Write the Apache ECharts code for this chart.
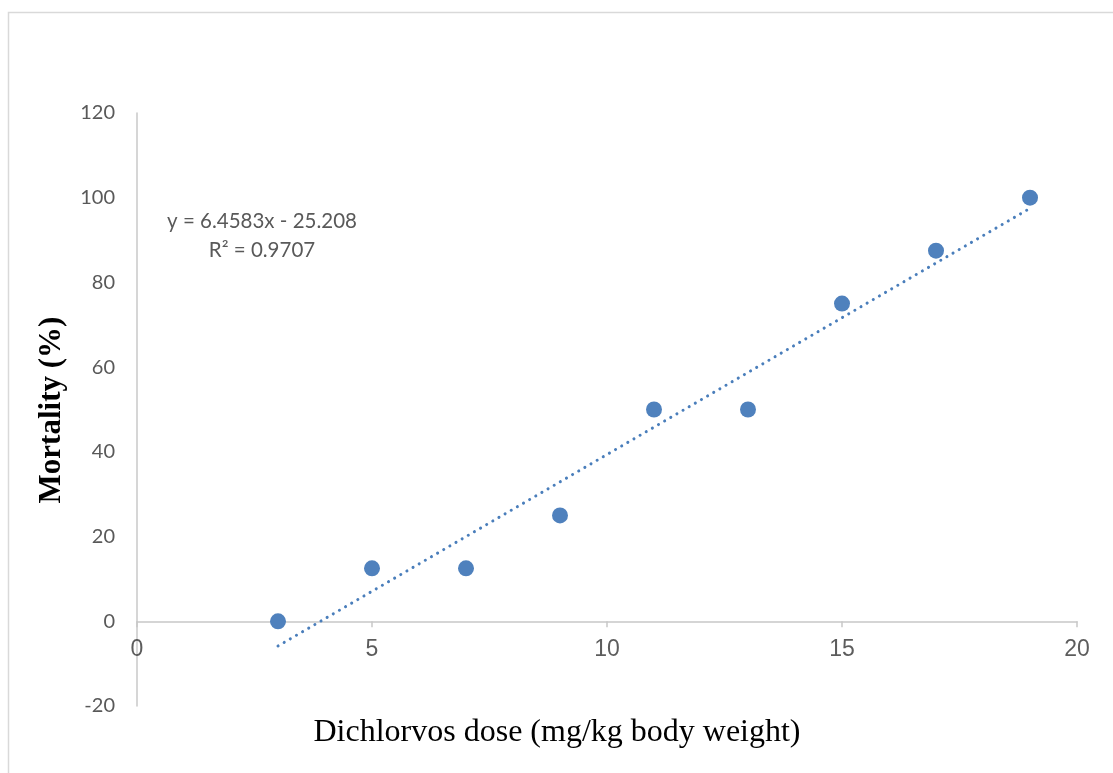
<!DOCTYPE html>
<html>
<head>
<meta charset="utf-8">
<script src="https://cdn.jsdelivr.net/npm/echarts@6/dist/echarts.min.js"></script>
<style>html,body{margin:0;padding:0;background:#fff;}#c{width:1113px;height:773px;}</style>
</head>
<body>
<div id="c"></div>
<script>
const doses = [3, 5, 7, 9, 11, 13, 15, 17, 19];
const mortality = [0, 12.5, 12.5, 25, 50, 50, 75, 87.5, 100];
const trendSlope = 6.4583;
const trendIntercept = -25.208;
const trendRange = [3, 19];
const xTickValues = [0, 5, 10, 15, 20];
const equationLines = ['y = 6.4583x - 25.208', 'R² = 0.9707'];
const xTitle = 'Dichlorvos dose (mg/kg body weight)';
const yTitle = 'Mortality (%)';

const points = doses.map((d, i) => [d, mortality[i]]);
const trend = trendRange.map(x => [x, trendSlope * x + trendIntercept]);
const xTickLabels = xTickValues.map(v => ({ value: [v, 0], name: String(v) }));

const chart = echarts.init(document.getElementById('c'));
chart.setOption({
  animation: false,
  backgroundColor: '#fff',
  grid: { left: 137, right: 36, top: 113, bottom: 67 },
  graphic: [
    { type: 'rect', shape: { x: 8.5, y: 12.5, width: 1200, height: 900 }, style: { fill: 'none', stroke: '#d9d9d9', lineWidth: 1.5 }, z: -1 },
    { type: 'text', style: { x: 262, y: 221, text: equationLines[0], fill: '#595959', font: '20.5px Lato, "Open Sans", sans-serif', textAlign: 'center', textVerticalAlign: 'middle' } },
    { type: 'text', style: { x: 262, y: 250, text: equationLines[1], fill: '#595959', font: '20.5px Lato, "Open Sans", sans-serif', textAlign: 'center', textVerticalAlign: 'middle' } },
    { type: 'text', style: { x: 557, y: 733, text: xTitle, fill: '#000', font: '32px "Liberation Serif", serif', textAlign: 'center', textVerticalAlign: 'middle' } },
    { type: 'text', rotation: Math.PI / 2, x: 52, y: 410, style: { x: 0, y: 0, text: yTitle, fill: '#000', font: 'bold 31px "Liberation Serif", serif', textAlign: 'center', textVerticalAlign: 'middle' } }
  ],
  xAxis: {
    type: 'value', min: 0, max: 20, interval: 5,
    axisLine: { show: true, onZero: true, lineStyle: { color: '#c8c8c8', width: 1.5 } },
    axisTick: { show: true, length: 6, lineStyle: { color: '#c8c8c8', width: 1.5 } },
    axisLabel: { show: false },
    splitLine: { show: false }
  },
  yAxis: {
    type: 'value', min: -20, max: 120, interval: 20,
    axisLine: { show: true, onZero: false, lineStyle: { color: '#c8c8c8', width: 1.5 } },
    axisTick: { show: false },
    axisLabel: { color: '#595959', fontSize: 20, fontFamily: 'Lato, "Open Sans", sans-serif', margin: 22 },
    splitLine: { show: false }
  },
  series: [
    {
      type: 'scatter', data: xTickLabels, symbol: 'circle', symbolSize: 2, silent: true, z: 1,
      itemStyle: { color: 'rgba(255,255,255,0)' },
      label: { show: true, formatter: p => p.name, position: 'bottom', distance: 16, color: '#333333', fontSize: 23, fontFamily: '"Liberation Sans", Arial, sans-serif' }
    },
    {
      type: 'line', data: trend, symbol: 'none', z: 2,
      lineStyle: { color: '#4a7ebb', width: 3, type: [0.1, 7], cap: 'round' }
    },
    {
      type: 'scatter', data: points, symbol: 'circle', symbolSize: 16, z: 3,
      itemStyle: { color: '#4f81bd', opacity: 1 }
    }
  ]
});
</script>
</body>
</html>
